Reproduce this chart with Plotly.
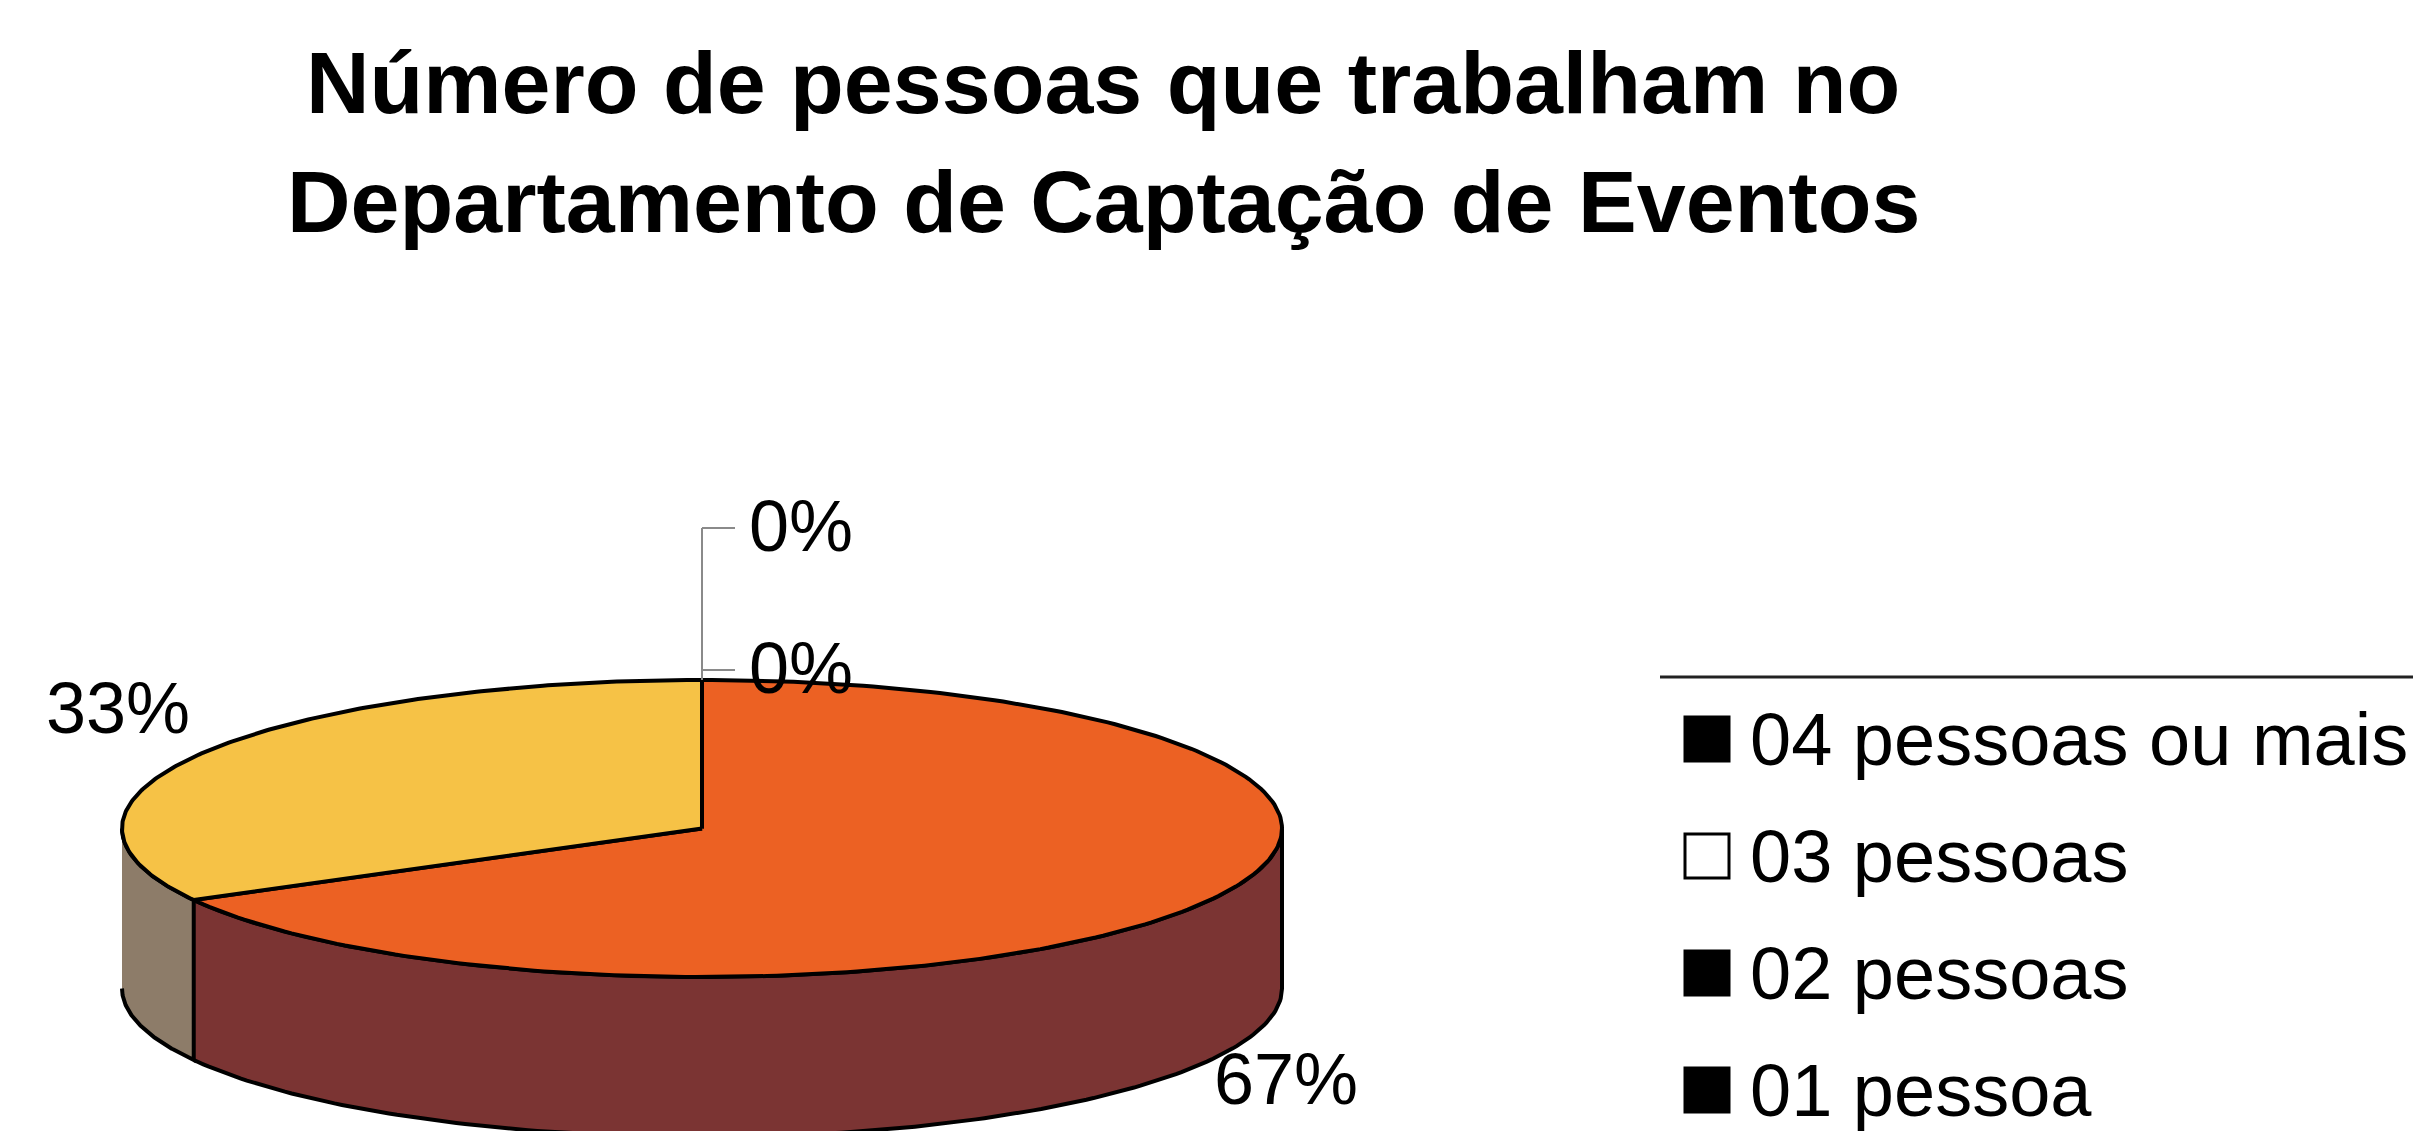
import numpy as np
import plotly.graph_objects as go

# ---------------- data ----------------
categories = ["04 pessoas ou mais", "03 pessoas", "02 pessoas", "01 pessoa"]
shares = [0, 0, 67, 33]          # percent of respondents
title_lines = ["Número de pessoas que trabalham no",
               "Departamento de Captação de Eventos"]

# ---------------- styles ----------------
top_colors = ["#3a3a3a", "#ffffff", "#EC6123", "#F6C246"]
wall_colors = ["#222222", "#dddddd", "#7B3433", "#8D7C69"]
legend_swatch = ["#000000", "#ffffff", "#000000", "#000000"]
FONT = "Liberation Sans, Arial, Helvetica, sans-serif"

W, H = 2413, 1131
CX, CY, RX, RY, DEPTH = 702, 828.5, 580, 148.5, 160

def ex(th):
    return CX + RX * np.cos(np.radians(th))

def ey(th, dy=0.0):
    return CY - RY * np.sin(np.radians(th)) + dy

fig = go.Figure()
total = float(sum(shares))
walls, tops, annotations, shapes = [], [], [], []
zero_labels = []

a0 = 90.0
for cat, v, tc, wc in zip(categories, shares, top_colors, wall_colors):
    frac = v / total
    a1 = a0 - 360.0 * frac
    pct = f"{round(frac * 100)}%"
    if frac > 0:
        th = np.linspace(a0, a1, 240)
        tops.append(go.Scatter(
            x=np.concatenate([[CX], ex(th), [CX]]),
            y=np.concatenate([[CY], ey(th), [CY]]),
            mode="lines", fill="toself", fillcolor=tc,
            line=dict(color="black", width=4), hoverinfo="skip", showlegend=False))
        for k in range(-2, 3):
            lo = max(a1, -180.0 + 360 * k)
            hi = min(a0, 0.0 + 360 * k)
            if hi > lo:
                tw = np.linspace(lo, hi, 160)
                walls.append(go.Scatter(
                    x=np.concatenate([ex(tw), ex(tw[::-1])]),
                    y=np.concatenate([ey(tw), ey(tw[::-1], DEPTH)]),
                    mode="lines", fill="toself", fillcolor=wc,
                    line=dict(color="black", width=4), hoverinfo="skip", showlegend=False))
        mid = (a0 + a1) / 2.0
        s = np.sin(np.radians(mid))
        lx = CX + RX * 1.17 * np.cos(np.radians(mid))
        ly = CY - RY * 1.6 * s + (DEPTH - 30 if s < 0 else 0)
        annotations.append(dict(x=lx, y=ly, xref="x", yref="y", text=pct,
                                showarrow=False, xanchor="center", yanchor="middle",
                                font=dict(family=FONT, size=72, color="black")))
    else:
        zero_labels.append((a0, pct))
    a0 = a1

# stacked labels for zero-width slices with leader lines
top_y = ey(90)
for i, (ang, pct) in enumerate(zero_labels):
    ly = top_y - 12 - i * 142
    annotations.append(dict(x=CX + 45, y=ly, xref="x", yref="y", text=pct,
                            showarrow=False, xanchor="left", yanchor="middle",
                            font=dict(family=FONT, size=72, color="black")))
    shapes.append(dict(type="line", xref="x", yref="y", x0=CX, x1=CX + 33,
                       y0=ly + 2, y1=ly + 2, line=dict(color="#8a8a8a", width=2)))
if zero_labels:
    shapes.append(dict(type="line", xref="x", yref="y", x0=CX, x1=CX,
                       y0=top_y, y1=top_y - 12 - (len(zero_labels) - 1) * 142 + 2,
                       line=dict(color="#8a8a8a", width=2)))

for t in walls + tops:
    fig.add_trace(t)

# legend (drawn manually)
LEG_X, LEG_Y0, LEG_STEP = 1707, 739, 117
leg_y = [LEG_Y0 + i * LEG_STEP for i in range(len(categories))]
fig.add_trace(go.Scatter(
    x=[LEG_X] * len(categories), y=leg_y, mode="markers",
    marker=dict(symbol="square", size=44, color=legend_swatch,
                line=dict(color="black", width=3)),
    cliponaxis=False, hoverinfo="skip", showlegend=False))
for cat, y in zip(categories, leg_y):
    annotations.append(dict(x=1748, y=y, xref="x", yref="y", text=cat,
                            showarrow=False, xanchor="left", yanchor="middle",
                            font=dict(family=FONT, size=74, color="black")))
shapes.append(dict(type="line", xref="x", yref="y", x0=1660, x1=W, y0=677, y1=677,
                   line=dict(color="#222222", width=3)))

# title
for i, line in enumerate(title_lines):
    annotations.append(dict(x=1103, y=82 + i * 119, xref="x", yref="y",
                            text=f"<b>{line}</b>", showarrow=False,
                            xanchor="center", yanchor="middle",
                            font=dict(family=FONT, size=88, color="black")))

fig.update_layout(
    width=W, height=H, autosize=False,
    margin=dict(l=0, r=0, t=0, b=0, pad=0),
    paper_bgcolor="white", plot_bgcolor="white",
    showlegend=False,
    xaxis=dict(range=[0, W], visible=False, fixedrange=True),
    yaxis=dict(range=[H, 0], visible=False, fixedrange=True),
    annotations=annotations, shapes=shapes,
)
fig.write_html("out.html")
